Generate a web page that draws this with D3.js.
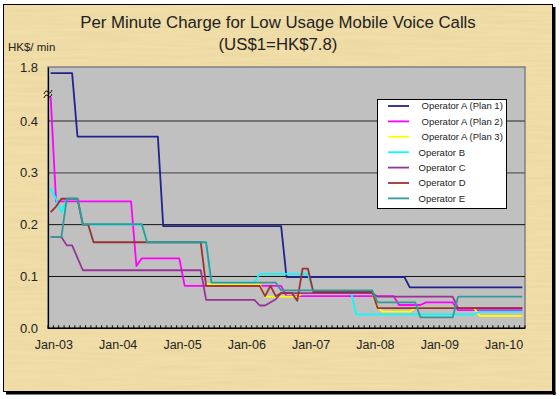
<!DOCTYPE html>
<html><head><meta charset="utf-8">
<script src="https://cdn.jsdelivr.net/npm/d3@7"></script>
<style>
html,body{margin:0;padding:0;background:#fff;}
svg{display:block;font-family:"Liberation Sans",Arial,sans-serif;}
</style>
</head><body>
<svg id="chart" width="560" height="399"></svg>
<script>
// ---- data (month index: 0 = Dec-02, 1 = Jan-03, ...) ----
const xTickLabels = ["Jan-03","Jan-04","Jan-05","Jan-06","Jan-07","Jan-08","Jan-09","Jan-10"];
const yTickValues = [0, 0.1, 0.2, 0.3, 0.4, 1.8];
const yTickLabels = ["0.0","0.1","0.2","0.3","0.4","1.8"];
const seriesNames = ["Operator A (Plan 1)","Operator A (Plan 2)","Operator A (Plan 3)","Operator B","Operator C","Operator D","Operator E"];
const seriesColors = ["#22228f","#ff00ff","#ffff00","#00ffff","#993399","#993333","#339999"];

const opA1 = [[0,1.64],[4,1.64],[5,0.37],[20,0.37],[21,0.197],[43,0.197],[44,0.099],[66,0.099],[67,0.079],[88,0.079]];
const opA2 = [[0,1.02],[1,0.245],[15,0.245],[16,0.12],[17,0.135],[24,0.135],[25,0.082],[43,0.082],[44,0.062],[64,0.062],[65,0.045],[69,0.045],[70,0.05],[75,0.05],[76,0.035],[88,0.035]];
const opA3 = [[29,0.085],[39,0.085],[40,0.061],[46,0.061],[47,0.068],[60,0.068],[61,0.04],[62,0.032],[67,0.032],[68,0.039],[79,0.039],[80,0.024],[88,0.024]];
const opB  = [[0,0.27],[1,0.25],[2,0.224],[3,0.25],[5,0.25],[6,0.2],[17,0.2],[18,0.166],[29,0.166],[30,0.088],[38,0.088],[39,0.105],[48,0.105],[49,0.071],[56,0.071],[57,0.027],[79,0.027],[80,0.032],[88,0.032]];
const opC  = [[0,0.176],[2,0.176],[3,0.16],[4,0.16],[6,0.112],[28,0.112],[29,0.055],[38,0.055],[39,0.044],[40,0.044],[42,0.056],[43,0.068],[60,0.068],[61,0.061],[75,0.061],[76,0.039],[88,0.039]];
const opD  = [[0,0.224],[1,0.235],[2,0.25],[5,0.25],[6,0.2],[7,0.2],[8,0.166],[28,0.166],[29,0.082],[39,0.082],[40,0.062],[41,0.082],[42,0.062],[43,0.068],[45,0.068],[46,0.053],[47,0.115],[48,0.115],[49,0.07],[60,0.07],[61,0.039],[88,0.039]];
const opE  = [[0,0.176],[2,0.176],[3,0.25],[5,0.25],[6,0.201],[17,0.201],[18,0.166],[29,0.166],[30,0.088],[42,0.088],[43,0.073],[60,0.073],[61,0.05],[68,0.05],[69,0.021],[75,0.021],[76,0.061],[88,0.061]];
const allSeries = [opA1, opA2, opA3, opB, opC, opD, opE];

// ---- layout ----
const svg = d3.select("#chart");
const W = 560, H = 399;
const plot = {left: 48, right: 525, top: 67, bottom: 328.3};

const x = d3.scaleLinear().domain([-0.5, 88.5]).range([plot.left, plot.right]);
// broken value axis: 0..0.4 linear, then compressed up to 1.8
const y = d3.scaleLinear().domain([0, 0.4, 1.8]).range([plot.bottom, 121, plot.top]);

// background
svg.append("rect").attr("x",0).attr("y",0).attr("width",W).attr("height",H).attr("fill","#ffffff");
const defs = svg.append("defs");
const f = defs.append("filter").attr("id","pap").attr("x",0).attr("y",0).attr("width","100%").attr("height","100%");
f.append("feTurbulence").attr("type","fractalNoise").attr("baseFrequency","0.015 0.35").attr("numOctaves",2).attr("seed",4).attr("result","n");
f.append("feColorMatrix").attr("in","n").attr("type","matrix")
  .attr("values","0 0 0 0 0.55  0 0 0 0 0.42  0 0 0 0 0.15  0 0 0 0.5 -0.12");
svg.append("rect").attr("x",4).attr("y",5).attr("width",548).attr("height",386).attr("fill","#f1dea9");
svg.append("rect").attr("x",4).attr("y",5).attr("width",548).attr("height",386).attr("filter","url(#pap)").attr("opacity",0.4);

// outer frame with shadow
svg.append("rect").attr("x",3.5).attr("y",4.5).attr("width",549).attr("height",387)
  .attr("fill","none").attr("stroke","#000").attr("stroke-width",1);
svg.append("rect").attr("x",553).attr("y",7).attr("width",2.5).attr("height",388).attr("fill","#000");
svg.append("rect").attr("x",6).attr("y",392).attr("width",549.5).attr("height",2.5).attr("fill","#000");

// plot area
svg.append("rect").attr("x",plot.left).attr("y",plot.top).attr("width",plot.right-plot.left).attr("height",plot.bottom-plot.top)
  .attr("fill","#c0c0c0").attr("stroke","#808080").attr("stroke-width",1.5);

// gridlines
svg.append("g").selectAll("line").data(yTickValues.filter(v => v > 0 && v < 1.8)).join("line")
  .attr("x1",plot.left).attr("x2",plot.right)
  .attr("y1",d=>y(d)).attr("y2",d=>y(d))
  .attr("stroke",d=> d>=0.3 ? "#5a5a5a" : "#111")
  .attr("stroke-width",d=> d>=0.3 ? 1.4 : 1);

// series lines
const line = d3.line().x(d=>x(d[0])).y(d=>y(d[1]));
svg.append("g").selectAll("path").data(allSeries).join("path")
  .attr("d",line).attr("fill","none")
  .attr("stroke",(d,i)=>seriesColors[i]).attr("stroke-width",1.8).attr("stroke-linejoin","round");

// y axis
const yAxis = d3.axisLeft(y).tickValues(yTickValues).tickFormat((d,i)=>yTickLabels[i]).tickSize(0).tickPadding(10);
const gy = svg.append("g").attr("transform",`translate(${plot.left},0)`).call(yAxis);
gy.select(".domain").attr("stroke","#000").attr("stroke-width",1.2);
gy.selectAll("text").attr("font-size",13).attr("fill","#222").attr("font-family","Liberation Sans, Arial, sans-serif");

// axis break mark
svg.append("path").attr("d",`M${plot.left-4},${94} q2,-5 4,-2 q2,3 4,-2 M${plot.left-4},${98} q2,-5 4,-2 q2,3 4,-2`)
  .attr("fill","none").attr("stroke","#000").attr("stroke-width",0.9);

// x axis: monthly ticks, labels on January boundaries
const tickPos = d3.range(-0.5, 88.6, 1);
const gx = svg.append("g").attr("transform",`translate(0,${plot.bottom})`);
gx.append("line").attr("x1",plot.left).attr("x2",plot.right).attr("stroke","#000").attr("stroke-width",1.5);
gx.selectAll("line.t").data(tickPos).join("line").attr("class","t")
  .attr("x1",d=>x(d)).attr("x2",d=>x(d)).attr("y1",0).attr("y2",-3).attr("stroke","#000").attr("stroke-width",1);
const xAxis = d3.axisBottom(x).tickValues(xTickLabels.map((_,i)=>0.5+12*i)).tickFormat((d,i)=>xTickLabels[i]).tickSize(0).tickPadding(12);
const gxl = svg.append("g").attr("transform",`translate(0,${plot.bottom})`).call(xAxis);
gxl.select(".domain").remove();
gxl.selectAll("text").attr("font-size",12.5).attr("fill","#222").attr("font-family","Liberation Sans, Arial, sans-serif");

// titles
svg.append("text").attr("x",278).attr("y",28).attr("text-anchor","middle").attr("font-size",16.8).attr("fill","#222")
  .text("Per Minute Charge for Low Usage Mobile Voice Calls");
svg.append("text").attr("x",278).attr("y",50).attr("text-anchor","middle").attr("font-size",16.8).attr("fill","#222")
  .text("(US$1=HK$7.8)");
svg.append("text").attr("x",8).attr("y",50.5).attr("font-size",11.5).attr("fill","#222").text("HK$/ min");

// legend
const lg = svg.append("g");
lg.append("rect").attr("x",377.5).attr("y",99.5).attr("width",129).attr("height",109).attr("fill","#fff").attr("stroke","#000").attr("stroke-width",1);
const rows = lg.selectAll("g").data(seriesNames).join("g")
  .attr("transform",(d,i)=>`translate(0,${106+i*15.4})`);
rows.append("line").attr("x1",388).attr("x2",409).attr("y1",0).attr("y2",0)
  .attr("stroke",(d,i)=>seriesColors[i]).attr("stroke-width",1.8);
rows.append("text").attr("x",(d,i)=> i<3 ? 421.5 : 418.5).attr("y",3.3).attr("font-size",9.5).attr("fill","#222").text(d=>d);
</script>
</body></html>
